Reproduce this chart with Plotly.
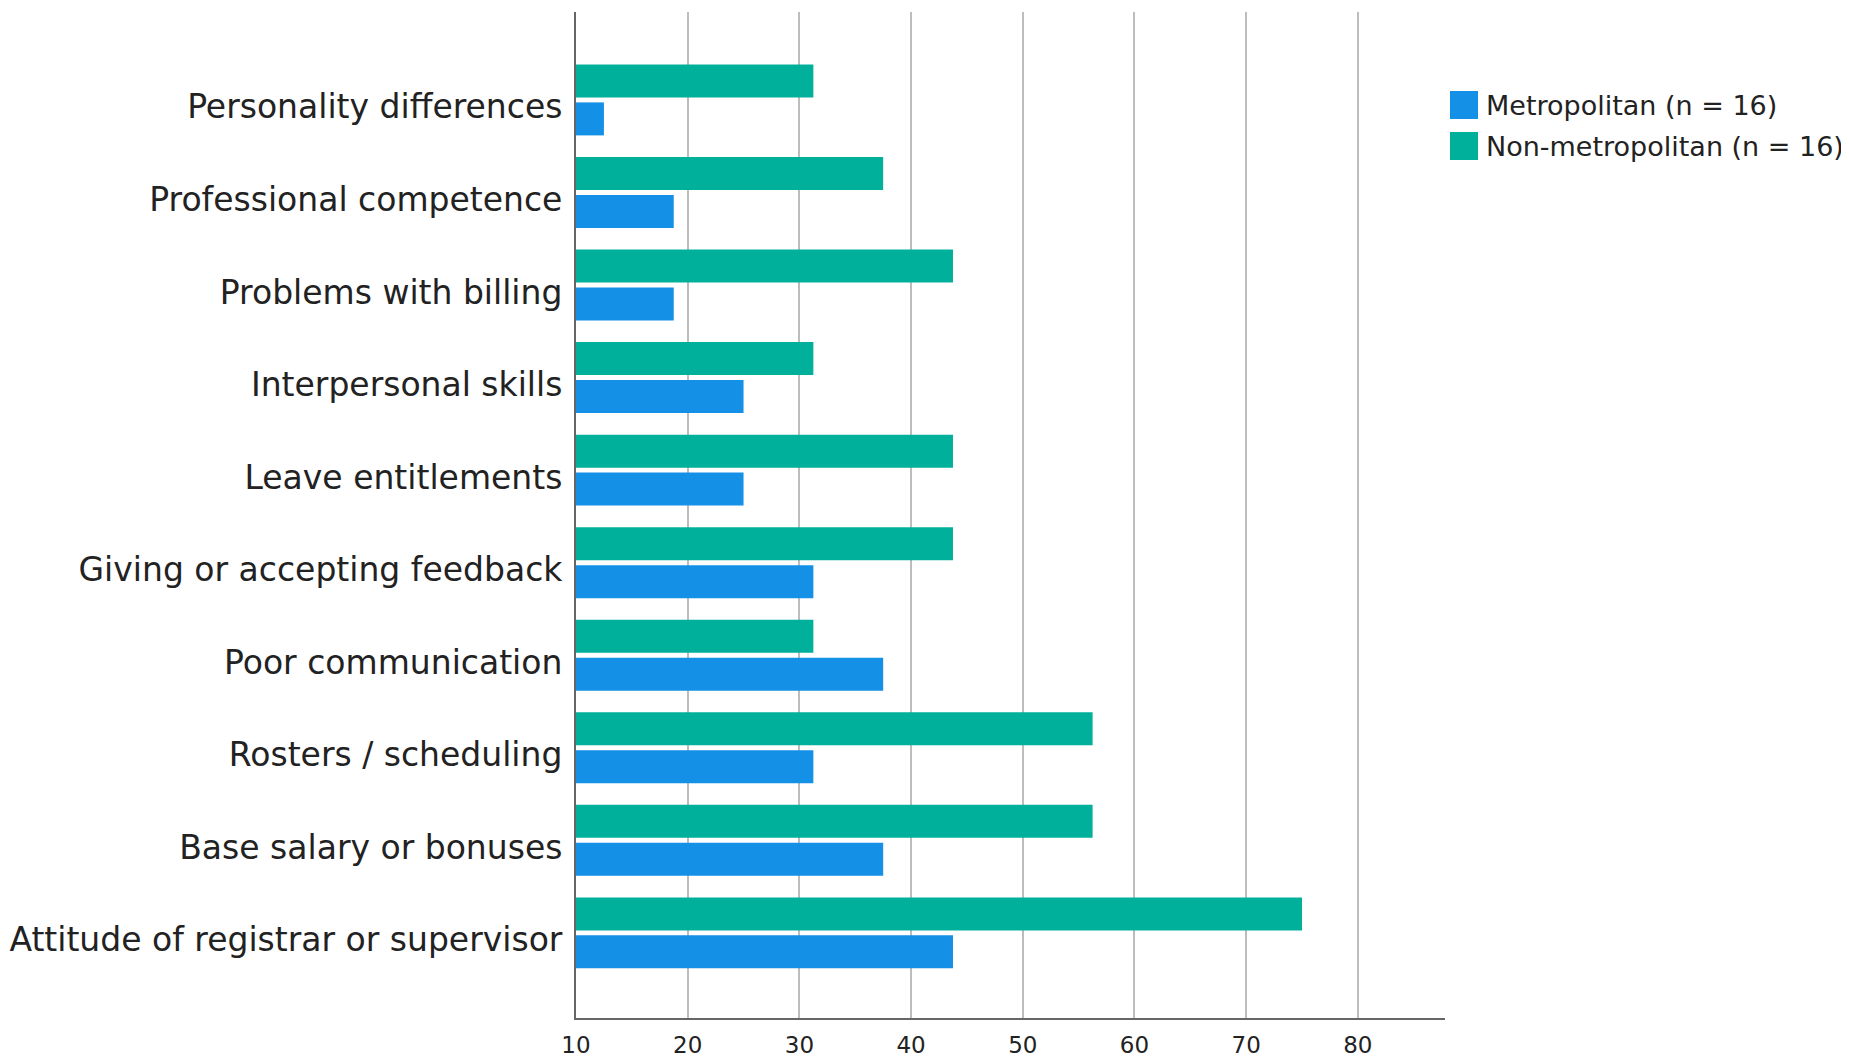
import plotly.graph_objects as go

categories = [
    "Attitude of registrar or supervisor",
    "Base salary or bonuses",
    "Rosters / scheduling",
    "Poor communication",
    "Giving or accepting feedback",
    "Leave entitlements",
    "Interpersonal skills",
    "Problems with billing",
    "Professional competence",
    "Personality differences",
]
metropolitan = [43.75, 37.5, 31.25, 37.5, 31.25, 25, 25, 18.75, 18.75, 12.5]
non_metropolitan = [75, 56.25, 56.25, 31.25, 43.75, 43.75, 31.25, 43.75, 37.5, 31.25]
series_names = ["Metropolitan (n = 16)", "Non-metropolitan (n = 16)"]
colors = ["#1490e6", "#00b09b"]
x_ticks = [10, 20, 30, 40, 50, 60, 70, 80]

FONT = "DejaVu Sans"

OFF = 8  # page body margin
W, H = 1849 - OFF, 1060 - OFF
L, T = 576 - OFF, 12 - OFF
R = W - (1445 - OFF)
B = H - (1018 - OFF)
PW, PH = W - L - R, H - T - B

fig = go.Figure()
for name, vals, col in zip(series_names, [metropolitan, non_metropolitan], colors):
    fig.add_trace(go.Bar(
        y=categories, x=[v - 10 for v in vals], base=10, orientation="h",
        name=name, marker=dict(color=col, line=dict(width=0)),
        showlegend=False,
    ))

fig.update_layout(
    width=W, height=H,
    margin=dict(l=L, r=R, t=T, b=B, autoexpand=False),
    paper_bgcolor="white", plot_bgcolor="white",
    barmode="group", bargap=0.18, bargroupgap=0.13,
    font=dict(family=FONT, color="#222222"),
    xaxis=dict(
        range=[10, 87.8], tickvals=x_ticks, ticktext=[str(t) for t in x_ticks],
        showgrid=True, gridcolor="#bdbdbd", gridwidth=1.5,
        showline=True, linecolor="#666666", linewidth=2,
        ticks="", zeroline=False, automargin=False,
        tickfont=dict(family=FONT, size=23, color="#222222"),
        ticklabelstandoff=5,
    ),
    yaxis=dict(
        categoryorder="array", categoryarray=categories,
        range=[-0.92, 9.95],
        showgrid=False, showline=True, linecolor="#666666", linewidth=2,
        ticks="", zeroline=False, automargin=False,
        tickfont=dict(family=FONT, size=33, color="#222222"),
        ticklabelstandoff=5, ticklabelshift=7,
    ),
)

# legend drawn in paper coordinates (positions in page pixels minus body offset)
leg_y = [105 - OFF, 146 - OFF]
for name, col, yc in zip(series_names, colors, leg_y):
    fig.add_shape(type="rect", xref="paper", yref="paper",
                  x0=(1450 - OFF - L) / PW, x1=(1478 - OFF - L) / PW,
                  y0=(H - B - (yc + 14)) / PH, y1=(H - B - (yc - 14)) / PH,
                  fillcolor=col, line=dict(width=0))
    fig.add_annotation(xref="paper", yref="paper",
                       x=(1484 - OFF - L) / PW, y=(H - B - yc) / PH,
                       xanchor="left", yanchor="middle", showarrow=False,
                       text=name, font=dict(family=FONT, size=27, color="#222222"))

fig.write_html("out.html")
